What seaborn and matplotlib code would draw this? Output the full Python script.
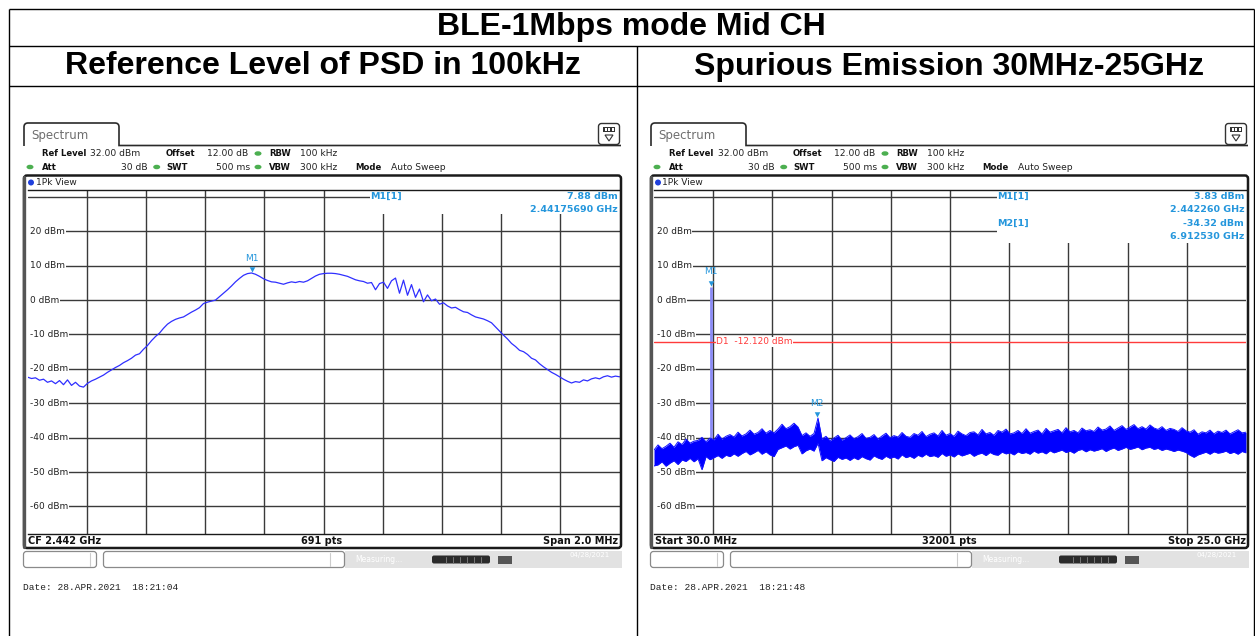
import numpy as np
import matplotlib
matplotlib.use("Agg")
import matplotlib.pyplot as plt
import matplotlib.transforms as mtransforms
from matplotlib.patches import Rectangle, FancyBboxPatch, Ellipse, Polygon, PathPatch
from matplotlib.path import Path
import seaborn as sns

# ---------------- data ----------------
title_main = "BLE-1Mbps mode Mid CH"
col_titles = ["Reference Level of PSD in 100kHz", "Spurious Emission 30MHz-25GHz"]

left_start_ghz, left_stop_ghz = 2.441, 2.443
psd_left = [
    -22.4, -22.8, -22.6, -23.3, -23.0, -23.9, -23.5, -24.3, -23.4, -24.6,
    -23.2, -24.8, -23.9, -25.0, -25.3, -24.2, -23.5, -23.0, -22.4, -21.8,
    -21.0, -20.3, -19.6, -19.0, -18.2, -17.6, -16.9, -16.0, -15.6, -14.3,
    -13.2, -11.8, -10.6, -9.6, -8.2, -7.0, -6.2, -5.6, -5.2, -4.9,
    -4.2, -3.5, -2.9, -2.2, -1.0, -0.6, -0.3, 0.0, 1.0, 2.0,
    3.0, 4.1, 5.3, 6.3, 7.2, 7.7, 7.88, 7.5, 6.9, 6.2,
    5.7, 5.3, 5.2, 4.9, 4.6, 5.0, 5.3, 5.1, 5.4, 5.2,
    5.6, 6.3, 7.0, 7.5, 7.7, 7.8, 7.8, 7.7, 7.5, 7.2,
    6.9, 6.4, 5.9, 5.6, 5.4, 4.9, 5.1, 3.0, 4.8, 5.2,
    3.4, 5.6, 6.4, 2.0, 5.8, 1.4, 4.5, 0.8, 3.2, -0.5,
    1.5, -0.2, 0.3, -1.2, -0.8, -1.7, -2.3, -2.1, -2.8, -3.4,
    -3.6, -4.3, -4.9, -5.2, -5.5, -6.0, -6.6, -7.8, -9.0, -10.2,
    -11.3, -12.6, -13.5, -14.6, -15.0, -15.8, -16.9, -17.4, -18.5, -19.4,
    -20.2, -21.0, -21.6, -22.3, -23.0, -23.6, -24.1, -23.7, -23.9, -23.2,
    -23.5, -22.9, -22.6, -22.9, -22.3, -22.0, -22.4, -22.1, -22.3,
]
left_marker_name = "M1"
left_marker_freq = 2.44175690
left_marker_level = 7.88

# Right: spurious sweep 30 MHz - 25 GHz, noise band upper / lower envelope (dBm)
right_start_ghz, right_stop_ghz = 0.03, 25.0
spur_upper = [
    -43.6, -42.1, -43.2, -42.5, -41.6, -42.8, -41.2, -42.0, -40.4, -41.6,
    -41.0, -40.8, -39.9, -41.2, -40.1, -40.6, -39.0, -40.4, -39.6, -39.1,
    -39.8, -38.4, -39.5, -38.9, -37.8, -39.0, -38.5, -37.4, -38.7, -37.9,
    -38.6, -37.5, -36.1, -37.4, -36.8, -35.8, -36.9, -39.4, -38.6, -39.6,
    -38.8, -34.3, -40.4, -39.6, -40.9, -40.1, -39.3, -40.7, -40.0, -39.2,
    -40.3, -39.7, -38.8, -40.2, -39.9, -39.1, -40.4, -39.5, -38.7, -40.0,
    -39.4, -39.8, -38.5, -39.6, -39.9, -38.8, -39.3, -38.2, -39.7, -39.0,
    -38.6, -39.5, -37.9, -39.3, -38.8, -39.6, -38.1, -38.9, -39.4, -38.5,
    -38.3, -39.2, -37.6, -38.9, -38.5, -39.3, -37.9, -38.4, -37.5, -38.9,
    -38.6, -37.9, -38.8, -37.4, -38.7, -38.2, -37.8, -38.9, -37.3, -38.4,
    -38.0, -37.6, -38.6, -37.1, -38.3, -37.9, -38.6, -37.2, -38.0, -37.7,
    -38.2, -36.9, -37.8, -37.5, -36.6, -37.9, -37.2, -36.5, -37.6, -36.9,
    -36.2, -37.4, -36.8, -37.5, -36.3, -37.2, -37.6, -36.8, -37.9, -37.3,
    -37.6, -38.2, -37.1, -38.0, -38.4, -37.7, -39.0, -38.3, -38.6, -37.8,
    -38.9, -38.1, -38.5, -37.8, -38.9, -38.3, -37.7, -38.6, -38.4,
]
spur_lower = [
    -48.2, -47.9, -47.0, -48.3, -47.4, -46.7, -47.8, -46.5, -46.9, -46.0,
    -47.0, -46.1, -49.3, -45.5, -46.4, -45.8, -45.2, -46.0, -45.1, -45.5,
    -44.7, -45.4, -44.6, -44.0, -45.0, -44.4, -43.7, -44.8, -44.1, -45.0,
    -45.5, -43.4, -42.9, -42.4, -43.3, -42.6, -42.2, -44.7, -43.8, -43.3,
    -43.9, -41.6, -46.7, -45.8, -46.4, -46.9, -45.7, -46.3, -45.9, -46.6,
    -45.8, -46.4, -45.5, -46.1, -46.5, -45.3, -45.9, -46.3, -45.4, -46.0,
    -45.6, -46.2, -45.0, -45.8, -45.4, -46.0, -45.1, -45.6, -44.8, -45.5,
    -45.2, -45.7, -44.6, -45.4, -45.0, -45.6, -44.7, -45.3, -44.9, -44.5,
    -45.4, -44.8, -44.5, -45.2, -44.3, -44.9, -45.1, -44.2, -44.7, -44.4,
    -45.0, -44.1, -44.6, -44.3, -44.8, -43.9, -44.5, -44.1, -44.7, -43.8,
    -44.4, -44.0, -43.6, -44.3, -43.9, -44.5, -43.7, -43.4, -44.1, -43.5,
    -43.9, -43.6, -43.2, -44.0, -43.4, -43.0, -43.7, -43.3, -42.8, -43.4,
    -43.1, -42.7, -43.5, -43.0, -42.8, -43.4, -43.1, -43.7, -43.3, -43.6,
    -44.0, -43.6, -43.9, -44.3, -45.1, -45.7, -45.0, -44.6, -44.2, -44.8,
    -44.1, -44.5, -44.3, -43.9, -44.6, -44.2, -44.8, -44.0, -44.4,
]
right_marker_names = ["M1", "M2"]
right_marker_freqs = [2.442260, 6.912530]
right_marker_levels = [3.83, -34.32]
display_line_level = -12.120

y_ticks = [20, 10, 0, -10, -20, -30, -40, -50, -60]
ref_level = 32.0
y_bottom = -68.0

left_footer = ["CF 2.442 GHz", "691 pts", "Span 2.0 MHz"]
right_footer = ["Start 30.0 MHz", "32001 pts", "Stop 25.0 GHz"]
left_date = "Date: 28.APR.2021  18:21:04"
right_date = "Date: 28.APR.2021  18:21:48"

# ---------------- figure ----------------
sns.set_style("white")
plt.rcParams['font.family'] = ['DejaVu Sans']

W, H = 1255, 636
fig = plt.figure(figsize=(W / 100, H / 100), dpi=100)

TRACE_BLUE = '#2f2fff'
MARK_BLUE = '#2496dc'
GRID = '#3a3a3a'


def px_axes(x0, y0, x1, y1):
    return fig.add_axes([x0 / W, 1 - y1 / H, (x1 - x0) / W, (y1 - y0) / H])


def setup_spec(ax, xmin, xmax, box_bottom):
    ax.set_xlim(xmin, xmax)
    ax.set_ylim(y_bottom, ref_level)
    ax.set_xticks(np.linspace(xmin, xmax, 11)[1:-1])
    ax.set_yticks(list(range(30, -61, -10)))
    ax.tick_params(length=0, labelbottom=False, labelleft=False)
    ax.grid(True, color=GRID, lw=1.0)
    ax.set_axisbelow(True)
    ax.set_facecolor('white')
    for s in ['left', 'right']:
        ax.spines[s].set_visible(False)
    for s in ['top', 'bottom']:
        ax.spines[s].set_color('#1a1a1a')
        ax.spines[s].set_linewidth(1.0)
    ax.set_xlabel('')
    ax.set_ylabel('')
    blend = mtransforms.blended_transform_factory(ax.transAxes, ax.transData)
    # keep tick-label grid lines from reaching the left frame edge
    ax.add_patch(Rectangle((0, y_bottom), 0.006, 25.0 - y_bottom, transform=blend,
                           fc='white', ec='none', zorder=1))
    for v in y_ticks:
        ax.text(0.005, v, f"{v} dBm", transform=blend, ha='left', va='center',
                fontsize=6.5, color='#222222', zorder=3,
                bbox=dict(fc='white', ec='none', pad=0.4))
    # marker info box hides grid in upper right
    ax.add_patch(Rectangle((0.579, box_bottom), 0.421, ref_level - box_bottom,
                           transform=blend, fc='white', ec='none', zorder=1))
    return blend


# left spectrum axes
ax1 = px_axes(27.5, 190, 619.5, 534)
b1 = setup_spec(ax1, left_start_ghz, left_stop_ghz, 24.9)
freq_left = np.linspace(left_start_ghz, left_stop_ghz, len(psd_left))
sns.lineplot(x=freq_left, y=psd_left, ax=ax1, color=TRACE_BLUE, lw=0.9,
             estimator=None, sort=False, zorder=4)
ax1.text(0.579, 30.1, "M1[1]", transform=b1, ha='left', va='center',
         fontsize=6.8, color=MARK_BLUE, fontweight='bold', zorder=5)
ax1.text(0.997, 30.1, f"{left_marker_level:.2f} dBm", transform=b1, ha='right',
         va='center', fontsize=6.8, color=MARK_BLUE, fontweight='bold', zorder=5)
ax1.text(0.997, 26.3, f"{left_marker_freq:.8f} GHz", transform=b1, ha='right',
         va='center', fontsize=6.8, color=MARK_BLUE, fontweight='bold', zorder=5)

tri = Path([(-0.75, 1.7), (0.75, 1.7), (0.0, 0.25), (-0.75, 1.7)])


def draw_marker(ax, name, f, lvl):
    ax.plot([f], [lvl], marker=tri, ms=9, color=MARK_BLUE, mec='none', zorder=6)
    ax.annotate(name, (f, lvl), xytext=(0, 7.5), textcoords='offset points',
                ha='center', va='bottom', fontsize=6.5, color=MARK_BLUE, zorder=6)


draw_marker(ax1, left_marker_name, left_marker_freq, left_marker_level)

# right spectrum axes
ax2 = px_axes(654, 190, 1246, 534)
b2 = setup_spec(ax2, right_start_ghz, right_stop_ghz, 16.5)
freq_right = np.linspace(right_start_ghz, right_stop_ghz, len(spur_upper))
m1_base = float(np.interp(right_marker_freqs[0], freq_right, spur_lower))
ax2.vlines(right_marker_freqs[0], m1_base, right_marker_levels[0],
           color='#8a8af6', lw=2.0, zorder=3.5)
ax2.fill_between(freq_right, spur_lower, spur_upper, color='#0000ff', lw=0, zorder=4)
sns.lineplot(x=freq_right, y=spur_upper, ax=ax2, color='#1010ff', lw=0.7,
             estimator=None, sort=False, zorder=4)
sns.lineplot(x=freq_right, y=spur_lower, ax=ax2, color='#1010ff', lw=0.7,
             estimator=None, sort=False, zorder=4)
ax2.axhline(display_line_level, color='#ff3b3b', lw=1.0, zorder=4.5)
ax2.text(0.105, display_line_level, f"D1  {display_line_level:.3f} dBm", transform=b2,
         ha='left', va='center', fontsize=6.5, color='#ff3b3b', zorder=5,
         bbox=dict(fc='white', ec='none', pad=0.3))
info_y = [(30.1, 26.3), (22.4, 18.6)]
for name, f, lvl, (yy1, yy2) in zip(right_marker_names, right_marker_freqs,
                                     right_marker_levels, info_y):
    draw_marker(ax2, name, f, lvl)
    ax2.text(0.579, yy1, f"{name}[1]", transform=b2, ha='left', va='center',
             fontsize=6.8, color=MARK_BLUE, fontweight='bold', zorder=5)
    ax2.text(0.997, yy1, f"{lvl:.2f} dBm", transform=b2, ha='right', va='center',
             fontsize=6.8, color=MARK_BLUE, fontweight='bold', zorder=5)
    ax2.text(0.997, yy2, f"{f:.6f} GHz", transform=b2, ha='right', va='center',
             fontsize=6.8, color=MARK_BLUE, fontweight='bold', zorder=5)

# ---------------- overlay: table + instrument chrome ----------------
ov = fig.add_axes([0, 0, 1, 1], facecolor='none')
ov.set_xlim(0, W)
ov.set_ylim(H, 0)
ov.axis('off')

# table lines
lk = dict(color='black', lw=1.0, solid_capstyle='butt')
ov.plot([8.5, 1253.5], [8.5, 8.5], **lk)
ov.plot([8.5, 1253.5], [45.5, 45.5], **lk)
ov.plot([8.5, 1253.5], [85.5, 85.5], **lk)
ov.plot([8.5, 8.5], [8.5, 636], **lk)
ov.plot([1253.5, 1253.5], [8.5, 636], **lk)
ov.plot([636.5, 636.5], [45.5, 636], **lk)
tfont = dict(family=['Liberation Sans', 'DejaVu Sans'], fontweight='bold', fontsize=23,
             color='black', ha='center', va='center')
ov.text(631, 27.5, title_main, **tfont)
ov.text(322.5, 66.5, col_titles[0], **tfont)
ov.text(949.5, 66.5, col_titles[1], **tfont)

GREEN = '#4caf50'


def dot(x, y, c=GREEN, w=7, h=4.5):
    ov.add_patch(Ellipse((x, y), w, h, fc=c, ec='none'))


def panel(dx, footer, date):
    # tab
    verts = [(24 + dx, 146), (24 + dx, 127), (24 + dx, 123), (28 + dx, 123),
             (115 + dx, 123), (119 + dx, 123), (119 + dx, 127), (119 + dx, 145.5),
             (621 + dx, 145.5)]
    codes = [Path.MOVETO, Path.LINETO, Path.CURVE3, Path.CURVE3, Path.LINETO,
             Path.CURVE3, Path.CURVE3, Path.LINETO, Path.LINETO]
    ov.add_patch(PathPatch(Path(verts, codes), fc='none', ec='#2a2a2a', lw=1.2))
    ov.text(31 + dx, 135, "Spectrum", fontsize=8.5, color='#6e6e6e', ha='left', va='center')
    # icon
    ov.add_patch(FancyBboxPatch((598.5 + dx, 123.5), 21, 21,
                                boxstyle='round,pad=0,rounding_size=3',
                                fc='white', ec='#333333', lw=1.0))
    ov.add_patch(Rectangle((603 + dx, 127), 12, 5, fc='#333333', ec='none'))
    for k in range(3):
        ov.add_patch(Rectangle((604.5 + dx + k * 3.5, 128.2), 2, 2.6, fc='white', ec='none'))
    ov.add_patch(Polygon([(605 + dx, 135), (613 + dx, 135), (609 + dx, 141)],
                         closed=True, fc='white', ec='#333333', lw=0.8))
    # settings rows
    bk = dict(fontsize=6.1, fontweight='bold', color='#111111', va='center')
    nk = dict(fontsize=6.6, color='#222222', va='center')
    y1, y2 = 153.5, 167
    ov.text(41.7 + dx, y1, "Ref Level", ha='left', **bk)
    ov.text(90.5 + dx, y1, "32.00 dBm", ha='left', **nk)
    ov.text(165.7 + dx, y1, "Offset", ha='left', **bk)
    ov.text(206.7 + dx, y1, "12.00 dB", ha='left', **nk)
    dot(258 + dx, y1)
    ov.text(269 + dx, y1, "RBW", ha='left', **bk)
    ov.text(300 + dx, y1, "100 kHz", ha='left', **nk)
    dot(30 + dx, y2)
    ov.text(41.7 + dx, y2, "Att", ha='left', **bk)
    ov.text(148 + dx, y2, "30 dB", ha='right', **nk)
    dot(156.7 + dx, y2)
    ov.text(166.7 + dx, y2, "SWT", ha='left', **bk)
    ov.text(250 + dx, y2, "500 ms", ha='right', **nk)
    dot(258 + dx, y2)
    ov.text(269 + dx, y2, "VBW", ha='left', **bk)
    ov.text(300 + dx, y2, "300 kHz", ha='left', **nk)
    ov.text(355 + dx, y2, "Mode", ha='left', **bk)
    ov.text(390.7 + dx, y2, "Auto Sweep", ha='left', **nk)
    # plot frame
    ov.add_patch(FancyBboxPatch((24 + dx, 175.5), 597, 372.5,
                                boxstyle='round,pad=0,rounding_size=3',
                                fc='none', ec='#1a1a1a', lw=1.8))
    ov.plot([24.3 + dx, 24.3 + dx], [177, 547], color='#555555', lw=2.4)
    dot(31 + dx, 182.5, c='#1f3fdc', w=6, h=6)
    ov.text(35.5 + dx, 182.5, "1Pk View", fontsize=6.5, color='#222222', ha='left', va='center')
    # footer
    fk = dict(fontsize=7, fontweight='bold', color='#111111', va='center')
    ov.text(28 + dx, 541, footer[0], ha='left', **fk)
    ov.text(322 + dx, 541, footer[1], ha='center', **fk)
    ov.text(618.5 + dx, 541, footer[2], ha='right', **fk)
    # status bar
    ov.add_patch(Rectangle((345 + dx, 551), 277, 17, fc='#e2e2e2', ec='none'))
    ov.add_patch(FancyBboxPatch((23.5 + dx, 551.5), 73, 16,
                                boxstyle='round,pad=0,rounding_size=3',
                                fc='white', ec='#8a8a8a', lw=0.9))
    ov.plot([90 + dx, 90 + dx], [553, 566], color='#cccccc', lw=0.8)
    ov.add_patch(FancyBboxPatch((103.5 + dx, 551.5), 241, 16,
                                boxstyle='round,pad=0,rounding_size=3',
                                fc='white', ec='#8a8a8a', lw=0.9))
    ov.plot([330 + dx, 330 + dx], [553, 566], color='#cccccc', lw=0.8)
    ov.text(355 + dx, 559.5, "Measuring...", fontsize=5.5, color='white', ha='left', va='center')
    ov.add_patch(FancyBboxPatch((432 + dx, 555.5), 58, 8,
                                boxstyle='round,pad=0,rounding_size=2',
                                fc='#2b2b2b', ec='none'))
    for k in range(6):
        ov.plot([446 + dx + 7 * k, 446 + dx + 7 * k], [556.5, 562.5], color='#777777', lw=0.7)
    ov.add_patch(Rectangle((498 + dx, 555.5), 14, 8, fc='#555555', ec='none'))
    ov.text(590 + dx, 555, "04/28/2021", fontsize=5, color='white', ha='center', va='center')
    # date
    ov.text(23 + dx, 587.5, date, fontsize=6.8, family=['Liberation Mono', 'DejaVu Sans Mono'],
            color='#222222', ha='left', va='center')


panel(0, left_footer, left_date)
panel(627, right_footer, right_date)

fig.savefig("out.png", dpi=100)
